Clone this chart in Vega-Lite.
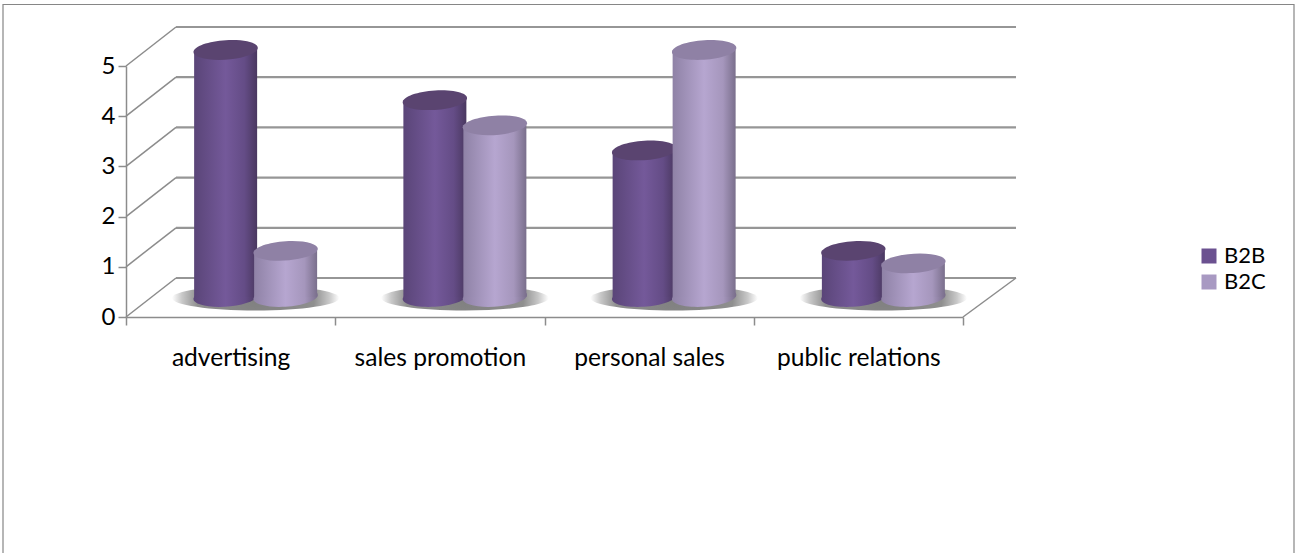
{
"$schema":"https://vega.github.io/schema/vega-lite/v6.json",
"width":837,"height":251,
"autosize":{"type":"none"},
"padding":{"left":126,"top":66,"right":333,"bottom":236},
"background":"white",
"config":{"view":{"stroke":null},"font":"Lato"},
"datasets":{
"bars":[
{"category":"advertising","series":"B2B","value":5},
{"category":"advertising","series":"B2C","value":1},
{"category":"sales promotion","series":"B2B","value":4},
{"category":"sales promotion","series":"B2C","value":3.5},
{"category":"personal sales","series":"B2B","value":3},
{"category":"personal sales","series":"B2C","value":5},
{"category":"public relations","series":"B2B","value":1},
{"category":"public relations","series":"B2C","value":0.75}
],
"levels":[{"level":0},{"level":1},{"level":2},{"level":3},{"level":4},{"level":5}],
"cats":[{"category":"advertising"},{"category":"sales promotion"},{"category":"personal sales"},{"category":"public relations"}]
},
"data":{"name":"bars"},
"resolve":{"scale":{"x":"independent"}},
"encoding":{"y":{"type":"quantitative","scale":{"domain":[0,5],"nice":false},
   "axis":{"title":null,"values":[0,1,2,3,4,5],"format":"d","grid":false,"labelFontSize":24,"labelColor":"#000000","labelPadding":3,"tickSize":8,"tickColor":"#8c8c8c","tickWidth":1.5,"domainColor":"#8c8c8c","domainWidth":1.5,"labelFont":"Lato"}}},
"layer":[
{"data":{"values":[{"a":1}]},
 "mark":{"type":"rect","fill":null,"stroke":"#868686","strokeWidth":1.2,"xOffset":-123,"x2Offset":331,"yOffset":-61.5,"y2Offset":238},
 "encoding":{"x":{"datum":0,"type":"quantitative","scale":{"domain":[0,1]},"axis":null},"x2":{"datum":1},
  "y":{"datum":5,"type":"quantitative"},"y2":{"datum":0}}},
{"data":{"name":"levels"},
 "mark":{"type":"rule","color":"#969696","strokeWidth":2.2,"xOffset":50,"x2Offset":53,"yOffset":-39},
 "encoding":{"x":{"datum":0,"type":"quantitative","scale":{"domain":[0,1]},"axis":null},"x2":{"datum":1},
  "y":{"field":"level","type":"quantitative"}}},
{"data":{"name":"levels"},
 "mark":{"type":"rule","color":"#8c8c8c","strokeWidth":1.5,"x2Offset":50,"y2Offset":-39},
 "encoding":{"x":{"datum":0,"type":"quantitative","scale":{"domain":[0,1]},"axis":null},"x2":{"datum":0},
  "y":{"field":"level","type":"quantitative"},"y2":{"field":"level"}}},
{"data":{"values":[{"level":0}]},
 "mark":{"type":"rule","color":"#8c8c8c","strokeWidth":1.5,"x2Offset":53,"y2Offset":-39},
 "encoding":{"x":{"datum":1,"type":"quantitative","scale":{"domain":[0,1]},"axis":null},"x2":{"datum":1},
  "y":{"field":"level","type":"quantitative"},"y2":{"field":"level"}}},
{"encoding":{"x":{"field":"category","type":"nominal","sort":null,"scale":{"paddingInner":0,"paddingOuter":0},
   "axis":{"title":null,"tickBand":"extent","labelAngle":0,"labelFontSize":24.6,"labelColor":"#000000","labelPadding":21,"tickSize":8,"tickColor":"#8c8c8c","tickWidth":1.5,"domainColor":"#8c8c8c","domainWidth":1.5,"labelFont":"Lato"}}},
 "layer":[
 {"data":{"name":"cats"},
  "mark":{"type":"point","filled":true,"opacity":1,"shape":"M-1,0 A1,0.15 0 1 1 1,0 A1,0.15 0 1 1 -1,0 Z","size":28000,"xOffset":25,"yOffset":-19,
   "fill":{"gradient":"radial","x1":0.5,"y1":0.5,"r1":0,"x2":0.5,"y2":0.5,"r2":0.5,"stops":[{"offset":0,"color":"#808080"},{"offset":0.7,"color":"#8f8f8f"},{"offset":0.88,"color":"#c8c8c8"},{"offset":1,"color":"#ffffff"}]}},
  "encoding":{"y":{"datum":0,"type":"quantitative"}}},
 {"mark":{"type":"square","opacity":0,"size":1},
  "encoding":{"y":{"field":"value","type":"quantitative"},
   "color":{"field":"series","type":"nominal",
    "scale":{"domain":["B2B","B2C"],"range":["#6b5190","#a899c2"]},
    "legend":{"title":null,"orient":"none","legendX":1072,"legendY":179,"symbolType":"square","symbolSize":225,"symbolOpacity":1,"symbolStrokeWidth":0,"labelFontSize":22,"labelColor":"#000000","labelFont":"Lato","rowPadding":4,"labelOffset":4}}}},
 {"transform":[{"filter":"datum.series==='B2B'"}],
  "mark":{"type":"point","filled":true,"opacity":1,"shape":"M-1,0 A1,0.3 -4 1 1 1,0 A1,0.3 -4 1 1 -1,0 Z","size":3969,"xOffset":-5,"yOffset":-20,
   "fill":{"gradient":"linear","x1":0,"y1":0,"x2":1,"y2":0,"stops":[{"offset":0,"color":"#5a4578"},{"offset":0.5,"color":"#74599a"},{"offset":0.8,"color":"#644c86"},{"offset":1,"color":"#4a3860"}]}},
  "encoding":{"y":{"datum":0,"type":"quantitative"}}},
 {"transform":[{"filter":"datum.series==='B2B'"}],
  "mark":{"type":"bar","width":63,"xOffset":-5,"yOffset":-16,"y2Offset":-20,
   "fill":{"gradient":"linear","x1":0,"y1":0,"x2":1,"y2":0,"stops":[{"offset":0,"color":"#5a4578"},{"offset":0.5,"color":"#74599a"},{"offset":0.8,"color":"#644c86"},{"offset":1,"color":"#4a3860"}]}},
  "encoding":{"y":{"field":"value","type":"quantitative"},"y2":{"datum":0}}},
 {"transform":[{"filter":"datum.series==='B2B'"}],
  "mark":{"type":"point","filled":true,"opacity":1,"shape":"M-1,0 A1,0.3 -4 1 1 1,0 A1,0.3 -4 1 1 -1,0 Z","size":3969,"xOffset":-5,"yOffset":-16,"fill":"#5a4470"},
  "encoding":{"y":{"field":"value","type":"quantitative"}}},
 {"transform":[{"filter":"datum.series==='B2C'"}],
  "mark":{"type":"point","filled":true,"opacity":1,"shape":"M-1,0 A1,0.3 -4 1 1 1,0 A1,0.3 -4 1 1 -1,0 Z","size":3969,"xOffset":55,"yOffset":-20,
   "fill":{"gradient":"linear","x1":0,"y1":0,"x2":1,"y2":0,"stops":[{"offset":0,"color":"#8f82a6"},{"offset":0.5,"color":"#b6a6d0"},{"offset":0.8,"color":"#a596bc"},{"offset":1,"color":"#7a6f8c"}]}},
  "encoding":{"y":{"datum":0,"type":"quantitative"}}},
 {"transform":[{"filter":"datum.series==='B2C'"}],
  "mark":{"type":"bar","width":63,"xOffset":55,"yOffset":-16,"y2Offset":-20,
   "fill":{"gradient":"linear","x1":0,"y1":0,"x2":1,"y2":0,"stops":[{"offset":0,"color":"#8f82a6"},{"offset":0.5,"color":"#b6a6d0"},{"offset":0.8,"color":"#a596bc"},{"offset":1,"color":"#7a6f8c"}]}},
  "encoding":{"y":{"field":"value","type":"quantitative"},"y2":{"datum":0}}},
 {"transform":[{"filter":"datum.series==='B2C'"}],
  "mark":{"type":"point","filled":true,"opacity":1,"shape":"M-1,0 A1,0.3 -4 1 1 1,0 A1,0.3 -4 1 1 -1,0 Z","size":3969,"xOffset":55,"yOffset":-16,"fill":"#8f81a5"},
  "encoding":{"y":{"field":"value","type":"quantitative"}}}
 ]}
]
}
